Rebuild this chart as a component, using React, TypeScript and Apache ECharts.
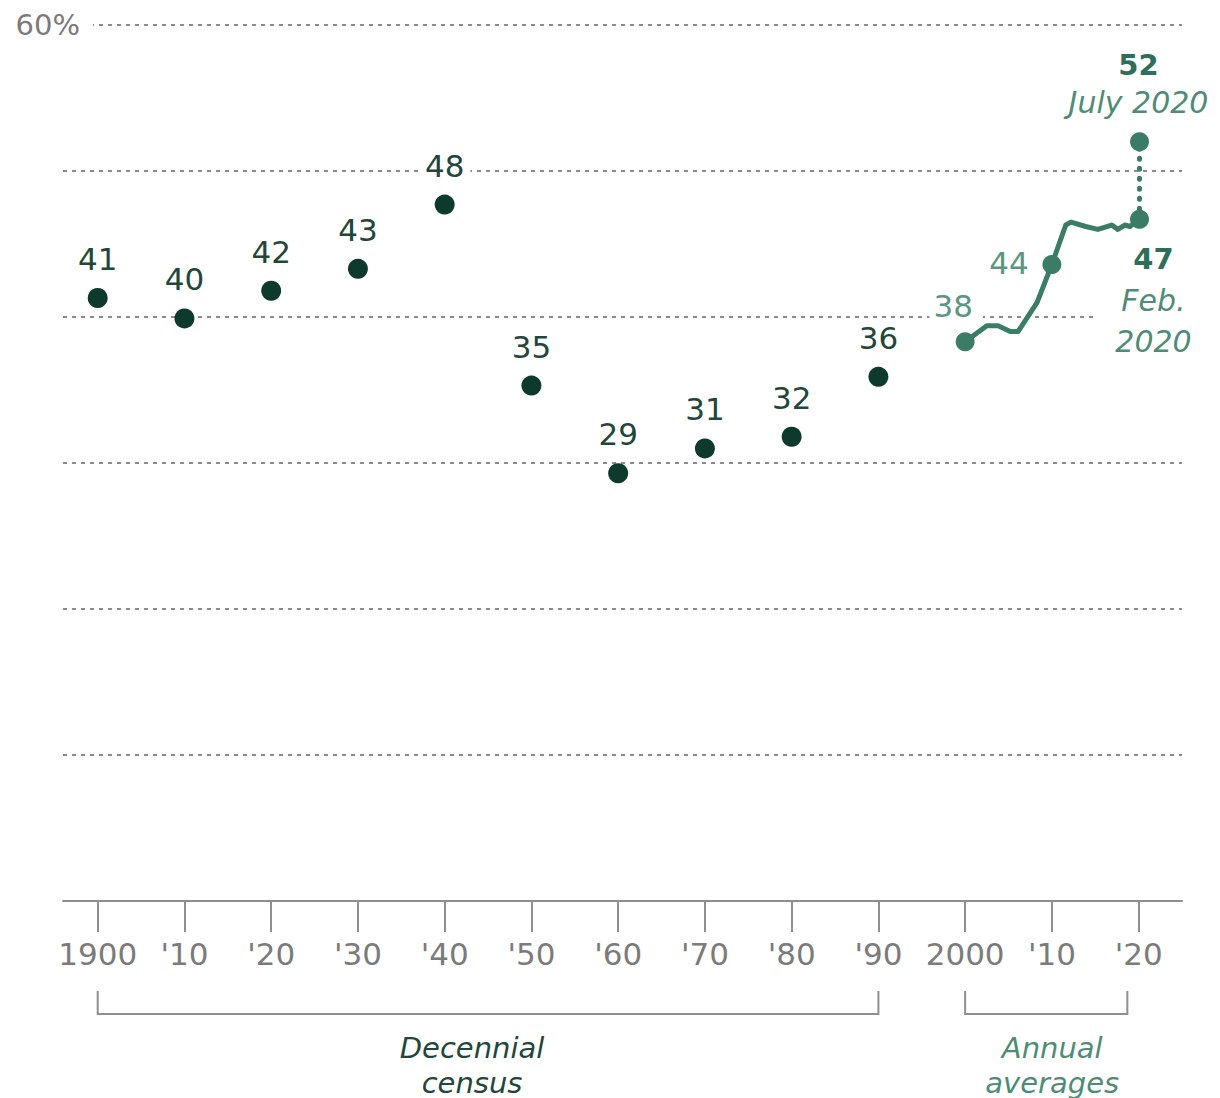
import React, { useEffect, useRef } from "react";
import * as echarts from "echarts";

// ---- Data ----
const decennialYears = [1900, 1910, 1920, 1930, 1940, 1950, 1960, 1970, 1980, 1990];
const decennialValues = [41.3, 39.9, 41.8, 43.3, 47.7, 35.3, 29.3, 31.0, 31.8, 35.9];

const annualYears = [2000, 2002.5, 2003.8, 2005.2, 2006.1, 2008.3, 2010, 2011.6, 2012.2, 2013.9, 2015.3, 2016.9, 2017.6, 2018.4, 2019.0, 2020.1];
const annualValues = [38.3, 39.4, 39.4, 39.0, 39.0, 41.0, 43.6, 46.3, 46.5, 46.2, 46.0, 46.3, 46.0, 46.3, 46.2, 46.7];

const keyAnnualYears = [2000, 2010, 2020.1];
const keyAnnualValues = [38.3, 43.6, 46.7];
const keyAnnualCaptions = ["", "", "Feb.\n2020"];

const july2020Year = 2020.1;
const july2020Value = 52.0;
const july2020Caption = "July 2020";

const tickYears = [1900, 1910, 1920, 1930, 1940, 1950, 1960, 1970, 1980, 1990, 2000, 2010, 2020];
const tickLabels = ["1900", "'10", "'20", "'30", "'40", "'50", "'60", "'70", "'80", "'90", "2000", "'10", "'20"];

const bracketStart = [1900, 2000];
const bracketEnd = [1990, 2018.7];
const bracketLabels = ["Decennial\ncensus", "Annual\naverages"];

// ---- Styles ----
const FONT = "'DejaVu Sans', 'Liberation Sans', sans-serif";
const DARK = "#0d3a2d";
const DARK_TEXT = "#22473a";
const TEAL = "#3a7c66";
const TEAL_LIGHT = "#5c9683";
const TEAL_BOLD = "#2f6e59";
const TEAL_ITALIC = "#4f8c76";
const GRAY_AXIS = "#8f8f8f";
const GRAY_TEXT = "#7b7b7b";
const GRID_DOT = "#8a8a8a";

export default function App() {
  const ref = useRef<HTMLDivElement>(null);

  useEffect(() => {
    if (!ref.current) return;
    const chart = echarts.init(ref.current, undefined, { renderer: "svg" });

    const keyLabelStyles: any[] = [
      {
        show: true,
        position: "inside",
        offset: [-9, -36],
        formatter: (p: any) => String(Math.round(p.value[1])),
        color: TEAL_LIGHT,
        fontSize: 31,
        fontFamily: FONT,
        backgroundColor: "#fff",
        padding: [0, 10, 0, 4],
      },
      {
        show: true,
        position: "inside",
        offset: [-43, -1],
        formatter: (p: any) => String(Math.round(p.value[1])),
        color: TEAL_LIGHT,
        fontSize: 31,
        fontFamily: FONT,
        padding: [0, 4],
      },
      {
        show: true,
        position: "inside",
        offset: [6, 81],
        align: "center",
        formatter: (p: any) => {
          const cap = keyAnnualCaptions[p.dataIndex].split("\n").map((s) => `{i|${s}}`).join("\n");
          return `{b|${Math.round(p.value[1])}}\n${cap}`;
        },
        backgroundColor: "#fff",
        padding: [0, 6, 0, 22],
        rich: {
          b: { fontSize: 29, fontWeight: "bold", color: TEAL_BOLD, fontFamily: FONT, lineHeight: 41, align: "center" },
          i: { fontSize: 30, fontStyle: "italic", color: TEAL_ITALIC, fontFamily: FONT, lineHeight: 41, align: "center" },
        },
      },
    ];

    const keyData = keyAnnualYears.map((y, i) => ({
      value: [y, keyAnnualValues[i]],
      label: keyLabelStyles[i],
    }));

    const julyData = [
      {
        value: [july2020Year, july2020Value],
        label: {
          show: true,
          position: "inside",
          offset: [-1, -58],
          formatter: (p: any) => `{b|${Math.round(p.value[1])}}\n{i|${july2020Caption}}`,
          rich: {
            b: { fontSize: 29, fontWeight: "bold", color: TEAL_BOLD, fontFamily: FONT, lineHeight: 37, align: "center" },
            i: { fontSize: 30, fontStyle: "italic", color: TEAL_ITALIC, fontFamily: FONT, lineHeight: 37, align: "center" },
          },
        },
      },
    ];

    const bracketShift = [-16, 6];
    const bracketColors = [DARK_TEXT, TEAL_ITALIC];

    chart.setOption({
      animation: false,
      backgroundColor: "#fff",
      grid: { left: 63, right: 38, top: 25, bottom: 197, containLabel: false, outerBoundsMode: "none" },
      xAxis: {
        type: "value",
        min: 1896,
        max: 2025,
        splitLine: { show: false },
        axisLine: { show: true, onZero: false, lineStyle: { color: GRAY_AXIS, width: 2 } },
        axisTick: { show: true, customValues: tickYears, length: 31, lineStyle: { color: GRAY_AXIS, width: 2 } },
        axisLabel: {
          customValues: tickYears,
          formatter: (v: number) => tickLabels[tickYears.indexOf(v)] ?? "",
          margin: 37,
          color: GRAY_TEXT,
          fontSize: 31,
          fontFamily: FONT,
        },
      },
      yAxis: {
        type: "value",
        min: 0,
        max: 60,
        interval: 10,
        axisLine: { show: false },
        axisTick: { show: false },
        splitLine: { show: true, lineStyle: { color: GRID_DOT, type: [4, 5], width: 2 } },
        axisLabel: {
          customValues: [60],
          formatter: (v: number) => `${v}%`,
          margin: -30,
          color: GRAY_TEXT,
          fontSize: 29,
          fontFamily: FONT,
          backgroundColor: "#fff",
          padding: [4, 13, 4, 0],
        },
      },
      series: [
        {
          type: "line",
          data: annualYears.map((y, i) => [y, annualValues[i]]),
          symbol: "none",
          showSymbol: false,
          lineStyle: { color: TEAL, width: 5, join: "round" },
          silent: true,
          z: 3,
        },
        {
          type: "line",
          data: [
            [july2020Year, keyAnnualValues[2]],
            [july2020Year, july2020Value],
          ],
          symbol: "none",
          lineStyle: { color: TEAL, width: 5, type: [1, 9], cap: "round" },
          silent: true,
          z: 3,
        },
        {
          type: "scatter",
          data: decennialYears.map((y, i) => [y, decennialValues[i]]),
          symbolSize: 20,
          itemStyle: { color: DARK, opacity: 1 },
          label: {
            show: true,
            position: "top",
            distance: 13,
            formatter: (p: any) => String(Math.round(p.value[1])),
            color: DARK_TEXT,
            fontSize: 31,
            fontFamily: FONT,
            lineHeight: 32,
            backgroundColor: "#fff",
            padding: [0, 6],
          },
          silent: true,
          z: 4,
        },
        {
          type: "scatter",
          data: keyData,
          symbolSize: 19,
          itemStyle: { color: TEAL, opacity: 1 },
          silent: true,
          z: 5,
        },
        {
          type: "scatter",
          data: julyData,
          symbolSize: 19,
          itemStyle: { color: TEAL, opacity: 1 },
          silent: true,
          z: 5,
        },
        {
          type: "custom",
          data: bracketStart.map((s, i) => [s, bracketEnd[i]]),
          encode: { x: [0, 1] },
          clip: false,
          silent: true,
          renderItem: (params: any, api: any) => {
            const idx = params.dataIndex;
            const p1 = api.coord([api.value(0), 0]);
            const p2 = api.coord([api.value(1), 0]);
            const y0 = p1[1];
            const x1 = p1[0];
            const x2 = p2[0];
            return {
              type: "group",
              children: [
                {
                  type: "polyline",
                  shape: { points: [[x1, y0 + 90], [x1, y0 + 113], [x2, y0 + 113], [x2, y0 + 90]] },
                  style: { stroke: GRAY_AXIS, lineWidth: 2, fill: null },
                },
                {
                  type: "text",
                  style: {
                    text: bracketLabels[idx],
                    x: (x1 + x2) / 2 + bracketShift[idx],
                    y: y0 + 129,
                    align: "center",
                    verticalAlign: "top",
                    fontSize: 29,
                    fontStyle: "italic",
                    fontFamily: FONT,
                    lineHeight: 35,
                    fill: bracketColors[idx],
                  },
                },
              ],
            };
          },
        },
      ],
    });

    return () => chart.dispose();
  }, []);

  return (
    <div
      ref={ref}
      style={{ position: "fixed", left: 0, top: 0, width: 1220, height: 1098, background: "#fff" }}
    />
  );
}
